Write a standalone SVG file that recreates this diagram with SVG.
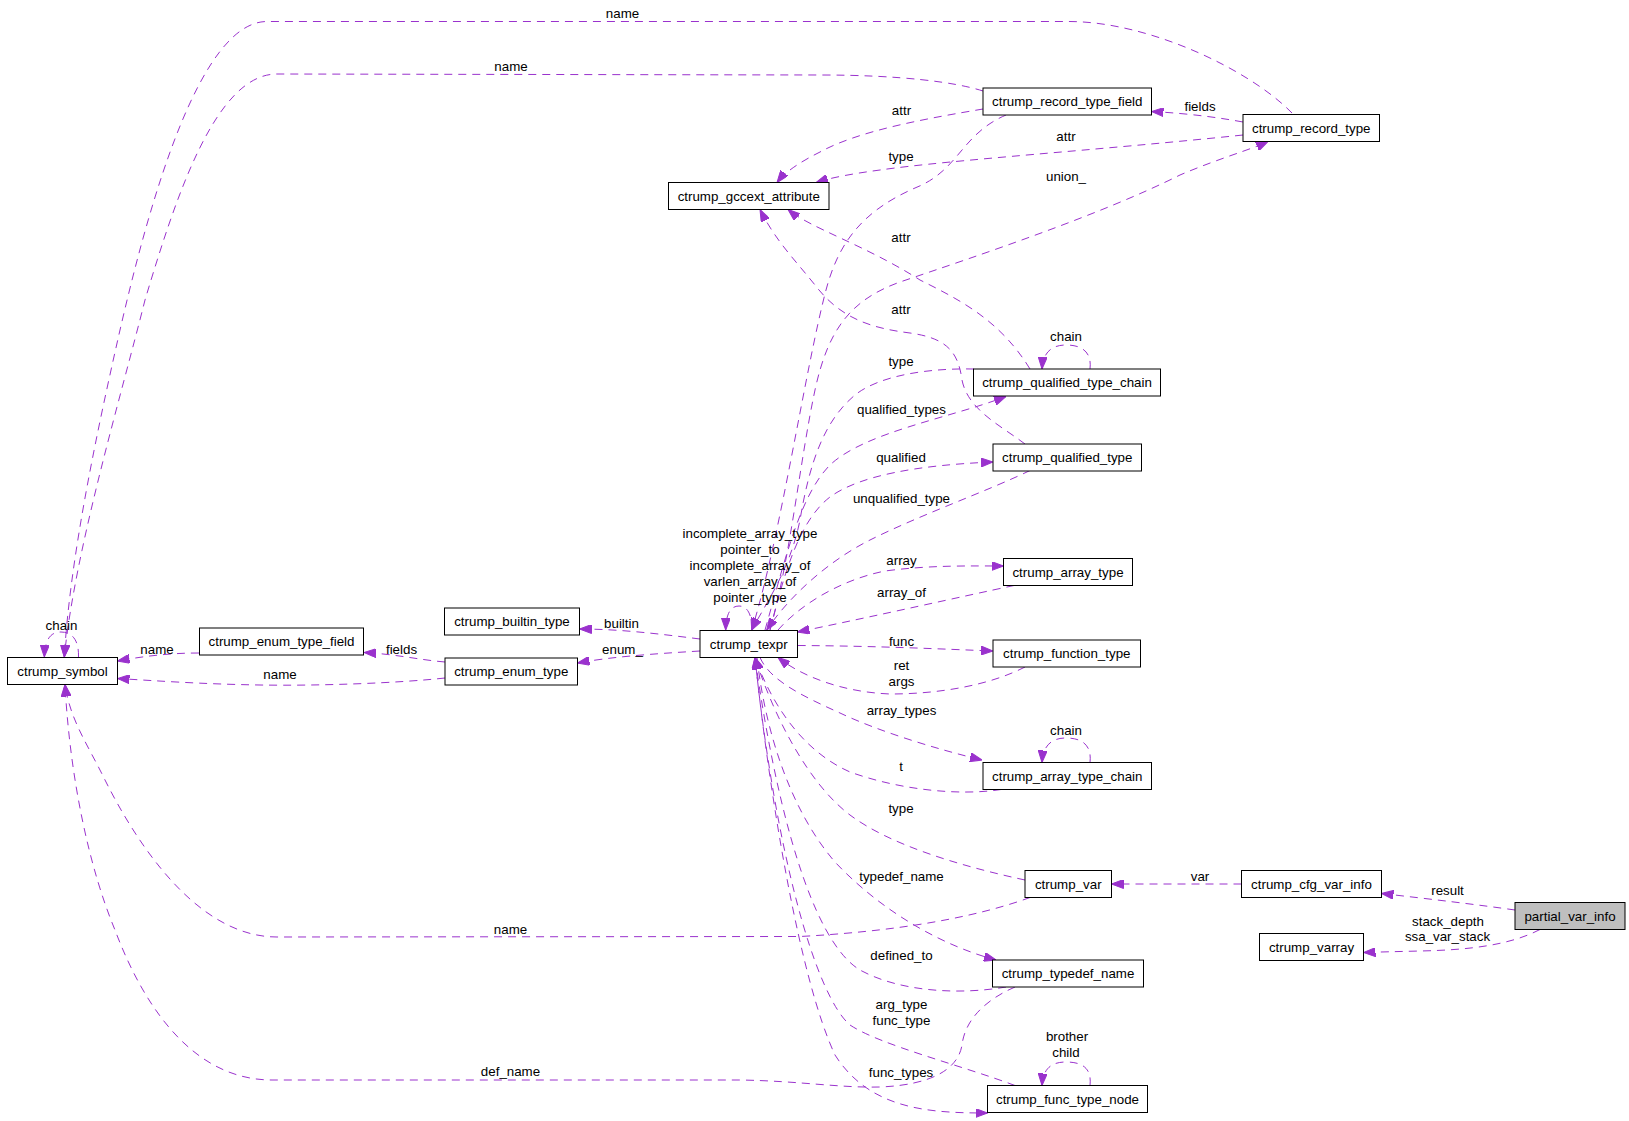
<svg xmlns="http://www.w3.org/2000/svg" width="1629" height="1121" viewBox="0 0 1629 1121">
<style>
text{font-family:"Liberation Sans",Arial,Helvetica,sans-serif;font-size:13.33px;fill:#000;text-anchor:middle}
.node rect{fill:#fff;stroke:#000;stroke-width:1}
.node.root rect{fill:#bfbfbf}
.edges path{fill:none;stroke:#9a32cd;stroke-width:1;stroke-dasharray:8,6;marker-end:url(#ah)}
</style>
<defs>
<marker id="ah" markerUnits="userSpaceOnUse" markerWidth="12" markerHeight="9" refX="12" refY="4.5" orient="auto">
<path d="M0,0 L12,4.5 L0,9 Z" fill="#9a32cd" stroke="#9a32cd" stroke-width="1"/>
</marker>
</defs>
<rect width="1629" height="1121" fill="#fff"/>
<g class="edges">
<path d="M1292,113 C1250,70 1150,22 1070,21.5 L267,21.5 C200,21.5 150,200 120,330 C95,440 70,560 64.3,657"/>
<path d="M983,91 C955,82 900,75 820,75 L277,74 C215,74 175,200 145,300 C120,400 75,550 64.3,657"/>
<path d="M78.5,657 C79,640 72,632 61,632 C50,632 45,640 44.3,657"/>
<path d="M199,653 C170,653 145,656 117.5,661"/>
<path d="M445,678 C400,683 320,686 260,685 C200,684 160,681 117.5,678.5"/>
<path d="M445,662 C420,660 395,654 364,652.5"/>
<path d="M700,639 C660,634 620,629 579.5,629"/>
<path d="M700,651 C650,654 610,657 577.5,663"/>
<path d="M1243,122 C1210,116 1180,113 1151.5,111.5"/>
<path d="M1006,115 C960,135 960,170 915,188 C860,212 838,245 826,290 C805,370 780,540 751.7,630"/>
<path d="M770,630 C790,560 800,460 815,390 C828,330 850,300 900,282 C980,255 1100,215 1180,175 C1220,158 1250,150 1268,141.5"/>
<path d="M983,109 C930,118 860,130 820,152 C800,162 785,172 777,182.5"/>
<path d="M1243,135 C1100,150 950,160 880,170 C850,174 830,178 816,182.5"/>
<path d="M1030,369 C1000,320 960,300 920,280 C865,245 810,228 788,209.5"/>
<path d="M1025,444 C1000,425 968,410 962,380 C958,350 945,338 910,333 C870,328 840,318 815,285 C795,260 775,240 760,209.5"/>
<path d="M1090,369 C1092,352 1082,345 1066,345 C1052,345 1043,352 1042,369"/>
<path d="M974,369 C930,368 880,375 855,395 C825,420 810,460 800,520 C790,570 765,605 751.7,630"/>
<path d="M765,630 C785,560 800,495 830,465 C865,432 950,418 1006,396.5"/>
<path d="M770,630 C785,570 800,520 830,497 C860,475 920,465 993,462"/>
<path d="M1030,470.5 C990,490 920,515 870,540 C830,560 790,595 766.7,630"/>
<path d="M752,630 C752,612 746,606 739,606 C731,606 726,613 725.7,630"/>
<path d="M778,630 C800,605 840,580 885,571 C930,565 970,566 1003.5,566"/>
<path d="M1014,585.5 C960,597 880,615 797.5,632"/>
<path d="M797.5,645.5 C880,646 940,649 993,651"/>
<path d="M1025,667 C990,685 940,694 890,694 C840,692 800,675 778,657.5"/>
<path d="M760,657.5 C770,680 800,695 840,713 C880,732 940,750 982,760"/>
<path d="M1090,762.5 C1092,745 1082,738 1066,738 C1052,738 1043,745 1042,762.5"/>
<path d="M1001,789.5 C960,796 900,790 850,772 C800,750 770,700 755,657.5"/>
<path d="M1025,880 C960,866 890,845 850,815 C810,785 775,720 755,657.5"/>
<path d="M757,657.5 C765,730 790,810 835,862 C880,910 940,945 996,960"/>
<path d="M1006,987 C960,995 900,992 860,970 C810,940 775,800 755,657.5"/>
<path d="M1015,1085.5 C960,1065 880,1045 850,1025 C815,995 775,850 755,657.5"/>
<path d="M755,657.5 C770,800 800,980 835,1055 C870,1110 930,1113 987.5,1113"/>
<path d="M1090,1085.5 C1092,1068 1082,1062 1066,1062 C1052,1062 1043,1068 1042,1085.5"/>
<path d="M1241.5,884 L1111.5,884"/>
<path d="M1515,910 C1480,905 1430,899 1381.5,893.5"/>
<path d="M1540,929.5 C1510,945 1470,950 1420,951 C1400,951.5 1380,952 1363.5,952.5"/>
<path d="M1030,897.5 C990,912 920,930 800,936.5 L277,937 C200,937 140,850 105,780 C88,745 70,720 65,684.5"/>
<path d="M1015,987 C985,1000 965,1020 962,1045 C958,1070 930,1085 880,1087 C840,1088 800,1081 740,1080 L272,1080 C195,1080 145,1010 115,930 C90,870 70,780 65,684.5"/>
</g>
<g class="labels">
<text x="622.5" y="17.5">name</text>
<text x="511" y="70.5">name</text>
<text x="901.5" y="114.5">attr</text>
<text x="1200" y="110.5">fields</text>
<text x="1066" y="141">attr</text>
<text x="901" y="161">type</text>
<text x="1066" y="181">union_</text>
<text x="901" y="242">attr</text>
<text x="901" y="313.5">attr</text>
<text x="1066" y="341">chain</text>
<text x="901" y="366">type</text>
<text x="901.5" y="413.5">qualified_types</text>
<text x="901" y="462">qualified</text>
<text x="901.5" y="503">unqualified_type</text>
<text x="750" y="538">incomplete_array_type</text>
<text x="750" y="554">pointer_to</text>
<text x="750" y="570">incomplete_array_of</text>
<text x="750" y="586">varlen_array_of</text>
<text x="750" y="602">pointer_type</text>
<text x="901.5" y="565">array</text>
<text x="901.5" y="597">array_of</text>
<text x="621.5" y="628">builtin</text>
<text x="622.5" y="654">enum_</text>
<text x="401.5" y="653.5">fields</text>
<text x="157" y="653.5">name</text>
<text x="280" y="678.5">name</text>
<text x="61.5" y="629.5">chain</text>
<text x="901.5" y="645.5">func</text>
<text x="901.5" y="669.5">ret</text>
<text x="901.5" y="685.5">args</text>
<text x="901.5" y="714.5">array_types</text>
<text x="1066" y="734.5">chain</text>
<text x="901" y="770.5">t</text>
<text x="901" y="813">type</text>
<text x="901.5" y="881">typedef_name</text>
<text x="1200" y="881">var</text>
<text x="1447.5" y="894.5">result</text>
<text x="1448" y="925.5">stack_depth</text>
<text x="1447.5" y="941">ssa_var_stack</text>
<text x="510.5" y="933.5">name</text>
<text x="901.5" y="960">defined_to</text>
<text x="901.5" y="1008.5">arg_type</text>
<text x="901.5" y="1024.5">func_type</text>
<text x="1067" y="1041">brother</text>
<text x="1066" y="1057">child</text>
<text x="510.5" y="1076">def_name</text>
<text x="901" y="1077">func_types</text>
</g>
<g id="node_ctrump_symbol" class="node"><rect x="7.5" y="657.5" width="110" height="27"/><text x="62.5" y="675.7">ctrump_symbol</text></g>
<g id="node_ctrump_enum_type_field" class="node"><rect x="199.5" y="628" width="164" height="27"/><text x="281.5" y="646.2">ctrump_enum_type_field</text></g>
<g id="node_ctrump_builtin_type" class="node"><rect x="444.5" y="608" width="135" height="27"/><text x="512" y="626.2">ctrump_builtin_type</text></g>
<g id="node_ctrump_enum_type" class="node"><rect x="445" y="658" width="132.5" height="27"/><text x="511.25" y="676.2">ctrump_enum_type</text></g>
<g id="node_ctrump_texpr" class="node"><rect x="700" y="630.5" width="97.5" height="27"/><text x="748.75" y="648.7">ctrump_texpr</text></g>
<g id="node_ctrump_gccext_attribute" class="node"><rect x="668.5" y="182.5" width="160.5" height="27"/><text x="748.75" y="200.7">ctrump_gccext_attribute</text></g>
<g id="node_ctrump_record_type_field" class="node"><rect x="983" y="88" width="168.5" height="27"/><text x="1067.25" y="106.2">ctrump_record_type_field</text></g>
<g id="node_ctrump_record_type" class="node"><rect x="1243" y="114.5" width="136.5" height="27"/><text x="1311.25" y="132.7">ctrump_record_type</text></g>
<g id="node_ctrump_qualified_type_chain" class="node"><rect x="973.5" y="369" width="187" height="27"/><text x="1067" y="387.2">ctrump_qualified_type_chain</text></g>
<g id="node_ctrump_qualified_type" class="node"><rect x="993" y="444" width="148.5" height="27"/><text x="1067.25" y="462.2">ctrump_qualified_type</text></g>
<g id="node_ctrump_array_type" class="node"><rect x="1003.5" y="558.5" width="129" height="27"/><text x="1068" y="576.7">ctrump_array_type</text></g>
<g id="node_ctrump_function_type" class="node"><rect x="993" y="640" width="147.5" height="27"/><text x="1066.75" y="658.2">ctrump_function_type</text></g>
<g id="node_ctrump_array_type_chain" class="node"><rect x="983" y="762.5" width="168.5" height="27"/><text x="1067.25" y="780.7">ctrump_array_type_chain</text></g>
<g id="node_ctrump_var" class="node"><rect x="1025" y="870.5" width="86.5" height="27"/><text x="1068.25" y="888.7">ctrump_var</text></g>
<g id="node_ctrump_cfg_var_info" class="node"><rect x="1241.5" y="870.5" width="140" height="27"/><text x="1311.5" y="888.7">ctrump_cfg_var_info</text></g>
<g id="node_partial_var_info" class="node root"><rect x="1515" y="902.5" width="110" height="27"/><text x="1570" y="920.7">partial_var_info</text></g>
<g id="node_ctrump_varray" class="node"><rect x="1259.5" y="933.5" width="104" height="27"/><text x="1311.5" y="951.7">ctrump_varray</text></g>
<g id="node_ctrump_typedef_name" class="node"><rect x="992.5" y="960" width="151" height="27"/><text x="1068" y="978.2">ctrump_typedef_name</text></g>
<g id="node_ctrump_func_type_node" class="node"><rect x="987.5" y="1085.5" width="160" height="27"/><text x="1067.5" y="1103.7">ctrump_func_type_node</text></g>
</svg>
